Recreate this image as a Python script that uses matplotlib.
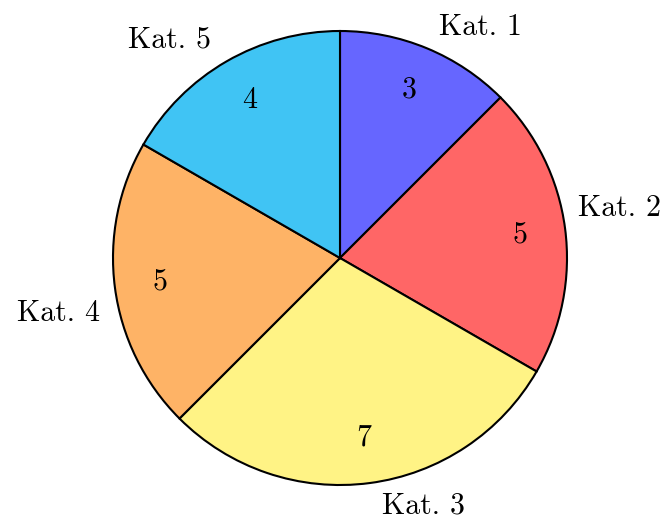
import matplotlib.pyplot as plt
import numpy as np

categories = ['Kat. 1', 'Kat. 2', 'Kat. 3', 'Kat. 4', 'Kat. 5']
values = [3, 5, 7, 5, 4]
colors = ['#6666ff', '#ff6666', '#fff385', '#feb366', '#40c4f4']

# where the outside names sit: (angle in degrees, distance in radii)
label_angle = [58.6, 10.1, -71.4, 191.0, 127.9]
label_dist = [1.19, 1.25, 1.15, 1.265, 1.22]

plt.rcParams['font.family'] = ['cmr10', 'DejaVu Serif']
plt.rcParams['axes.formatter.use_mathtext'] = True

fig = plt.figure(figsize=(6.68, 5.27), dpi=100)
ax = fig.add_axes([0, 0, 1, 1])

total = sum(values)
wedges, texts, autotexts = ax.pie(
    values, colors=colors, startangle=90, counterclock=False,
    radius=1.0, pctdistance=0.8,
    autopct=lambda p: '%d' % round(p * total / 100.0),
    wedgeprops=dict(edgecolor='black', linewidth=1.5),
    textprops=dict(fontsize=21.5))

for name, a, d in zip(categories, label_angle, label_dist):
    t = np.radians(a)
    ax.text(d * np.cos(t), d * np.sin(t), name, fontsize=21.5,
            ha='center', va='center')

ax.set_xlim(-340 / 227.0, 328 / 227.0)
ax.set_ylim(-269 / 227.0, 258 / 227.0)
ax.set_aspect('auto')
ax.axis('off')

plt.savefig('out.png', dpi=100)
